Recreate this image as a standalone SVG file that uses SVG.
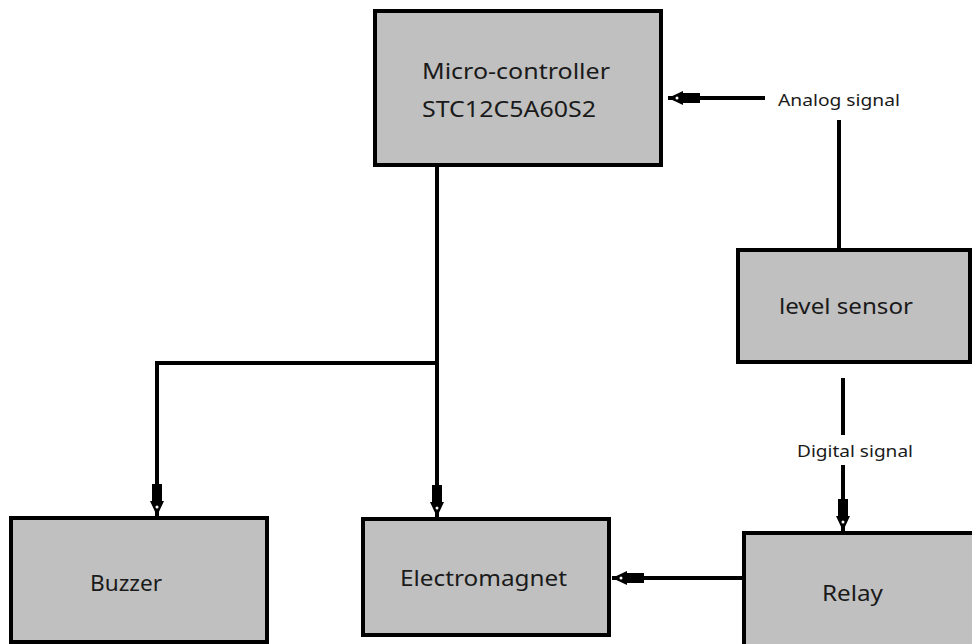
<svg xmlns="http://www.w3.org/2000/svg" width="972" height="644" viewBox="0 0 972 644">
<style>
.box{fill:#c0c0c0;stroke:#000;stroke-width:4}
.lbl{font-family:"Noto Sans","Open Sans",sans-serif;font-size:22px;fill:#1a1a1a}
.sm{font-family:"Noto Sans","Open Sans",sans-serif;font-size:16px;fill:#1a1a1a}
.ln{fill:none;stroke:#000;stroke-width:4}
</style>
<defs>
<marker id="ah" markerUnits="userSpaceOnUse" markerWidth="40" markerHeight="20" viewBox="-34 -10 36 20" refX="0" refY="0" orient="auto">
<path d="M-32,-5 L-15,-5 L-15,-7 L0,0 L-15,7 L-15,5 L-32,5 Z" fill="#000"/>
<circle cx="-9" cy="0" r="1.5" fill="#fff"/>
</marker>
</defs>
<rect width="972" height="644" fill="#fff"/>
<g id="connectors">
<line class="ln" x1="765" y1="98" x2="668" y2="98" marker-end="url(#ah)"/>
<line class="ln" x1="839" y1="120" x2="839" y2="249"/>
<polyline class="ln" points="437,166 437,363 157,363 157,516" marker-end="url(#ah)"/>
<line class="ln" x1="437" y1="363" x2="437" y2="517" marker-end="url(#ah)"/>
<line class="ln" x1="843" y1="378" x2="843" y2="435"/>
<line class="ln" x1="843" y1="465" x2="843" y2="531" marker-end="url(#ah)"/>
<line class="ln" x1="743" y1="578" x2="612" y2="578" marker-end="url(#ah)"/>
<text class="sm" x="778" y="106" textLength="122" lengthAdjust="spacingAndGlyphs">Analog signal</text>
<text class="sm" x="797" y="457" textLength="116" lengthAdjust="spacingAndGlyphs">Digital signal</text>
</g>
<g id="microcontroller">
<rect class="box" x="375" y="11" width="286" height="154"/>
<text class="lbl" x="422" y="79" textLength="188" lengthAdjust="spacingAndGlyphs">Micro-controller</text>
<text class="lbl" x="422" y="117" textLength="174" lengthAdjust="spacingAndGlyphs">STC12C5A60S2</text>
</g>
<g id="levelsensor">
<rect class="box" x="738" y="250" width="232" height="112"/>
<text class="lbl" x="779" y="314" textLength="134" lengthAdjust="spacingAndGlyphs">level sensor</text>
</g>
<g id="buzzer">
<rect class="box" x="11" y="518" width="256" height="124"/>
<text class="lbl" x="90" y="591" textLength="72" lengthAdjust="spacingAndGlyphs">Buzzer</text>
</g>
<g id="electromagnet">
<rect class="box" x="363" y="519" width="246" height="116"/>
<text class="lbl" x="400" y="586" textLength="167" lengthAdjust="spacingAndGlyphs">Electromagnet</text>
</g>
<g id="relay">
<rect class="box" x="744" y="533" width="240" height="120"/>
<text class="lbl" x="822" y="601" textLength="61" lengthAdjust="spacingAndGlyphs">Relay</text>
</g>
</svg>
